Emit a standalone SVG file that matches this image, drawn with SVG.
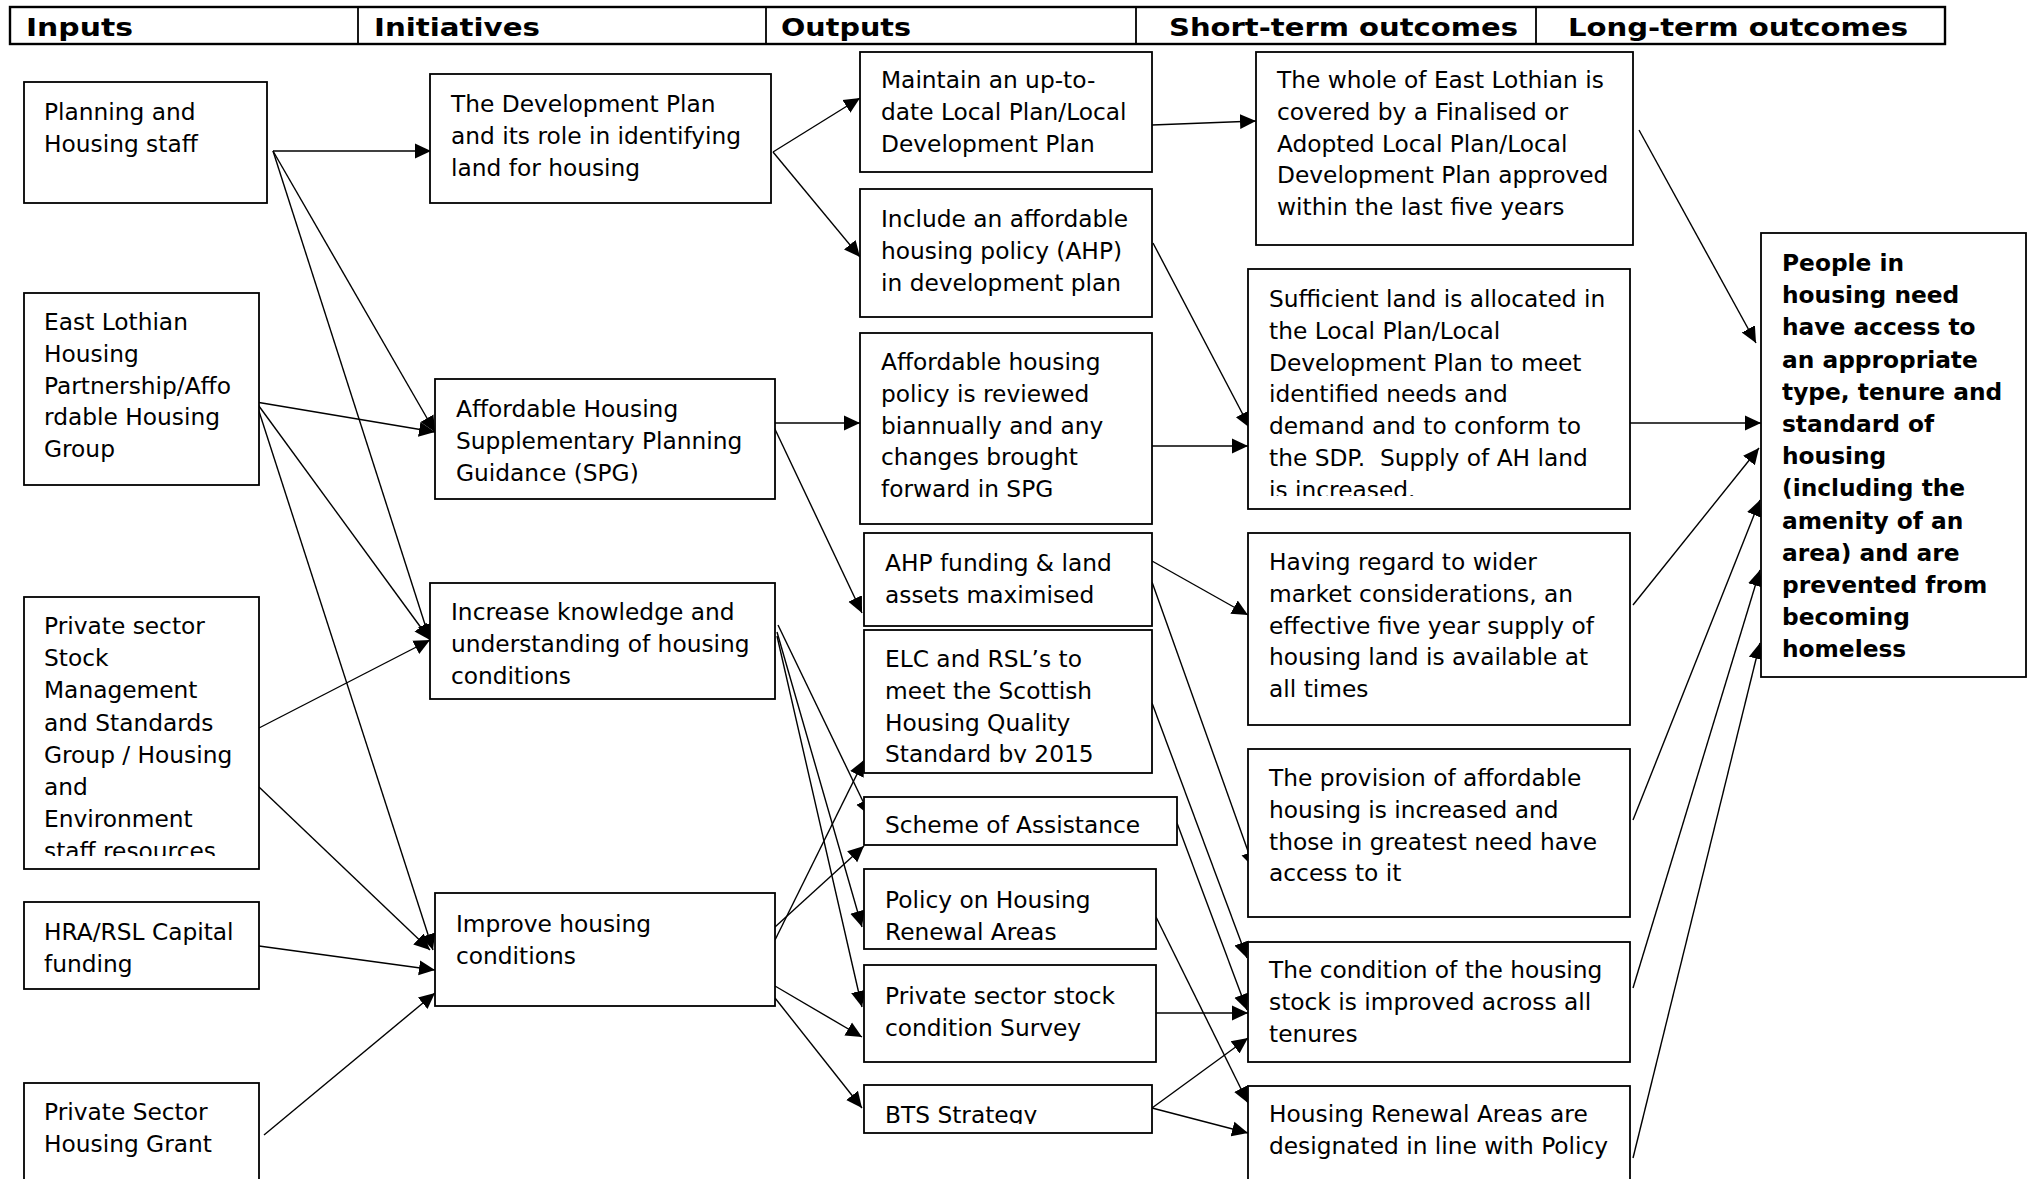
<svg xmlns="http://www.w3.org/2000/svg" width="2028" height="1179" viewBox="0 0 2028 1179">
<style>
.box{fill:#fff;stroke:#000;stroke-width:1.8}
.hdr{fill:#fff;stroke:#000;stroke-width:2.4}
.div{stroke:#000;stroke-width:1.8}
.t{font-family:"DejaVu Sans",Verdana,sans-serif;font-size:23.3px;fill:#000}
.h{font-family:"DejaVu Sans",Verdana,sans-serif;font-size:24px;font-weight:bold;fill:#000}
.b{font-weight:bold}
.c line{stroke:#000;stroke-width:1.4;marker-end:url(#ah)}
</style>
<defs>
<marker id="ah" markerUnits="userSpaceOnUse" markerWidth="17" markerHeight="17" viewBox="0 0 17 17" refX="16" refY="8.5" orient="auto"><path d="M0,1 L16,8.5 L0,16 z" fill="#000"/></marker>
<clipPath id="cl3"><rect x="24" y="597" width="235" height="259"/></clipPath>
<clipPath id="clo5"><rect x="864" y="630" width="288" height="133"/></clipPath>
<clipPath id="clo9"><rect x="864" y="1085" width="288" height="39"/></clipPath>
<clipPath id="cls2"><rect x="1248" y="269" width="382" height="227"/></clipPath>
</defs>
<rect width="2028" height="1179" fill="#fff"/>

<g id="header">
<rect class="hdr" x="10" y="7" width="1935" height="37"/>
<line class="div" x1="358" y1="7" x2="358" y2="44"/>
<line class="div" x1="766" y1="7" x2="766" y2="44"/>
<line class="div" x1="1136" y1="7" x2="1136" y2="44"/>
<line class="div" x1="1536" y1="7" x2="1536" y2="44"/>
<text class="h" x="26" y="36" textLength="107" lengthAdjust="spacingAndGlyphs">Inputs</text>
<text class="h" x="374" y="36" textLength="166" lengthAdjust="spacingAndGlyphs">Initiatives</text>
<text class="h" x="781" y="36" textLength="130" lengthAdjust="spacingAndGlyphs">Outputs</text>
<text class="h" x="1169" y="36" textLength="349" lengthAdjust="spacingAndGlyphs">Short-term outcomes</text>
<text class="h" x="1568" y="36" textLength="340" lengthAdjust="spacingAndGlyphs">Long-term outcomes</text>
</g>

<g id="connectors" class="c">
<line x1="273" y1="151" x2="431" y2="151"/>
<line x1="273" y1="151" x2="435" y2="432"/>
<line x1="273" y1="151" x2="430" y2="640"/>
<line x1="256" y1="402" x2="435" y2="432"/>
<line x1="256" y1="402" x2="430" y2="640"/>
<line x1="256" y1="402" x2="433" y2="950"/>
<line x1="259" y1="728" x2="430" y2="640"/>
<line x1="259" y1="787" x2="430" y2="950"/>
<line x1="259" y1="946" x2="435" y2="970"/>
<line x1="264" y1="1135" x2="435" y2="993"/>
<line x1="773" y1="152" x2="860" y2="98"/>
<line x1="773" y1="152" x2="860" y2="257"/>
<line x1="773" y1="423" x2="860" y2="423"/>
<line x1="773" y1="425" x2="862" y2="613"/>
<line x1="778" y1="625" x2="870" y2="816"/>
<line x1="777" y1="632" x2="862" y2="927"/>
<line x1="777" y1="636" x2="862" y2="1007"/>
<line x1="775" y1="940" x2="864" y2="760"/>
<line x1="775" y1="927" x2="864" y2="846"/>
<line x1="775" y1="986" x2="862" y2="1037"/>
<line x1="775" y1="998" x2="862" y2="1108"/>
<line x1="1152" y1="125" x2="1256" y2="121"/>
<line x1="1153" y1="243" x2="1250" y2="428"/>
<line x1="1152" y1="446" x2="1248" y2="446"/>
<line x1="1152" y1="561" x2="1248" y2="615"/>
<line x1="1152" y1="582" x2="1254" y2="868"/>
<line x1="1152" y1="703" x2="1247" y2="958"/>
<line x1="1177" y1="823" x2="1247" y2="1010"/>
<line x1="1152" y1="1013" x2="1248" y2="1013"/>
<line x1="1152" y1="1108" x2="1248" y2="1038"/>
<line x1="1152" y1="1108" x2="1248" y2="1133"/>
<line x1="1156" y1="917" x2="1248" y2="1103"/>
<line x1="1639" y1="130" x2="1756" y2="343"/>
<line x1="1630" y1="423" x2="1761" y2="423"/>
<line x1="1633" y1="605" x2="1759" y2="448"/>
<line x1="1633" y1="820" x2="1760" y2="500"/>
<line x1="1633" y1="988" x2="1760" y2="570"/>
<line x1="1633" y1="1158" x2="1760" y2="643"/>
</g>

<g id="in1"><rect class="box" x="24" y="82" width="243" height="121"/>
<text class="t" y="120"><tspan x="44">Planning and</tspan><tspan x="44" dy="31.8">Housing staff</tspan></text></g>
<g id="in2"><rect class="box" x="24" y="293" width="235" height="192"/>
<text class="t" y="330"><tspan x="44">East Lothian</tspan><tspan x="44" dy="31.8">Housing</tspan><tspan x="44" dy="31.8">Partnership/Affo</tspan><tspan x="44" dy="31.8">rdable Housing</tspan><tspan x="44" dy="31.8">Group</tspan></text></g>
<g id="in3"><rect class="box" x="24" y="597" width="235" height="272"/>
<text class="t" y="634" clip-path="url(#cl3)"><tspan x="44">Private sector</tspan><tspan x="44" dy="32.2">Stock</tspan><tspan x="44" dy="32.2">Management</tspan><tspan x="44" dy="32.2">and Standards</tspan><tspan x="44" dy="32.2">Group / Housing</tspan><tspan x="44" dy="32.2">and</tspan><tspan x="44" dy="32.2">Environment</tspan><tspan x="44" dy="32.2">staff resources</tspan></text></g>
<g id="in4"><rect class="box" x="24" y="902" width="235" height="87"/>
<text class="t" y="940"><tspan x="44">HRA/RSL Capital</tspan><tspan x="44" dy="31.8">funding</tspan></text></g>
<g id="in5"><rect class="box" x="24" y="1083" width="235" height="120"/>
<text class="t" y="1120"><tspan x="44">Private Sector</tspan><tspan x="44" dy="31.8">Housing Grant</tspan></text></g>

<g id="ini1"><rect class="box" x="430" y="74" width="341" height="129"/>
<text class="t" y="112"><tspan x="451">The Development Plan</tspan><tspan x="451" dy="31.8">and its role in identifying</tspan><tspan x="451" dy="31.8">land for housing</tspan></text></g>
<g id="ini2"><rect class="box" x="435" y="379" width="340" height="120"/>
<text class="t" y="417"><tspan x="456">Affordable Housing</tspan><tspan x="456" dy="31.8">Supplementary Planning</tspan><tspan x="456" dy="31.8">Guidance (SPG)</tspan></text></g>
<g id="ini3"><rect class="box" x="430" y="583" width="345" height="116"/>
<text class="t" y="620"><tspan x="451">Increase knowledge and</tspan><tspan x="451" dy="31.8">understanding of housing</tspan><tspan x="451" dy="31.8">conditions</tspan></text></g>
<g id="ini4"><rect class="box" x="435" y="893" width="340" height="113"/>
<text class="t" y="932"><tspan x="456">Improve housing</tspan><tspan x="456" dy="31.8">conditions</tspan></text></g>

<g id="out1"><rect class="box" x="860" y="52" width="292" height="120"/>
<text class="t" y="88"><tspan x="881">Maintain an up-to-</tspan><tspan x="881" dy="31.8">date Local Plan/Local</tspan><tspan x="881" dy="31.8">Development Plan</tspan></text></g>
<g id="out2"><rect class="box" x="860" y="189" width="292" height="128"/>
<text class="t" y="227"><tspan x="881">Include an affordable</tspan><tspan x="881" dy="31.8">housing policy (AHP)</tspan><tspan x="881" dy="31.8">in development plan</tspan></text></g>
<g id="out3"><rect class="box" x="860" y="333" width="292" height="191"/>
<text class="t" y="370"><tspan x="881">Affordable housing</tspan><tspan x="881" dy="31.8">policy is reviewed</tspan><tspan x="881" dy="31.8">biannually and any</tspan><tspan x="881" dy="31.8">changes brought</tspan><tspan x="881" dy="31.8">forward in SPG</tspan></text></g>
<g id="out4"><rect class="box" x="864" y="533" width="288" height="93"/>
<text class="t" y="571"><tspan x="885">AHP funding &amp; land</tspan><tspan x="885" dy="31.8">assets maximised</tspan></text></g>
<g id="out5"><rect class="box" x="864" y="630" width="288" height="143"/>
<text class="t" y="667" clip-path="url(#clo5)"><tspan x="885">ELC and RSL’s to</tspan><tspan x="885" dy="31.8">meet the Scottish</tspan><tspan x="885" dy="31.8">Housing Quality</tspan><tspan x="885" dy="31.8">Standard by 2015</tspan></text></g>
<g id="out6"><rect class="box" x="864" y="797" width="313" height="48"/>
<text class="t" x="885" y="833">Scheme of Assistance</text></g>
<g id="out7"><rect class="box" x="864" y="869" width="292" height="80"/>
<text class="t" y="908"><tspan x="885">Policy on Housing</tspan><tspan x="885" dy="31.8">Renewal Areas</tspan></text></g>
<g id="out8"><rect class="box" x="864" y="965" width="292" height="97"/>
<text class="t" y="1004"><tspan x="885">Private sector stock</tspan><tspan x="885" dy="31.8">condition Survey</tspan></text></g>
<g id="out9"><rect class="box" x="864" y="1085" width="288" height="48"/>
<text class="t" x="885" y="1123" clip-path="url(#clo9)">BTS Strategy</text></g>

<g id="st1"><rect class="box" x="1256" y="52" width="377" height="193"/>
<text class="t" y="88"><tspan x="1277">The whole of East Lothian is</tspan><tspan x="1277" dy="31.8">covered by a Finalised or</tspan><tspan x="1277" dy="31.8">Adopted Local Plan/Local</tspan><tspan x="1277" dy="31.8">Development Plan approved</tspan><tspan x="1277" dy="31.8">within the last five years</tspan></text></g>
<g id="st2"><rect class="box" x="1248" y="269" width="382" height="240"/>
<text class="t" y="307" clip-path="url(#cls2)" xml:space="preserve"><tspan x="1269">Sufficient land is allocated in</tspan><tspan x="1269" dy="31.8">the Local Plan/Local</tspan><tspan x="1269" dy="31.8">Development Plan to meet</tspan><tspan x="1269" dy="31.8">identified needs and</tspan><tspan x="1269" dy="31.8">demand and to conform to</tspan><tspan x="1269" dy="31.8">the SDP.  Supply of AH land</tspan><tspan x="1269" dy="31.8">is increased.</tspan></text></g>
<g id="st3"><rect class="box" x="1248" y="533" width="382" height="192"/>
<text class="t" y="570"><tspan x="1269">Having regard to wider</tspan><tspan x="1269" dy="31.8">market considerations, an</tspan><tspan x="1269" dy="31.8">effective five year supply of</tspan><tspan x="1269" dy="31.8">housing land is available at</tspan><tspan x="1269" dy="31.8">all times</tspan></text></g>
<g id="st4"><rect class="box" x="1248" y="749" width="382" height="168"/>
<text class="t" y="786"><tspan x="1269">The provision of affordable</tspan><tspan x="1269" dy="31.8">housing is increased and</tspan><tspan x="1269" dy="31.8">those in greatest need have</tspan><tspan x="1269" dy="31.8">access to it</tspan></text></g>
<g id="st5"><rect class="box" x="1248" y="942" width="382" height="120"/>
<text class="t" y="978"><tspan x="1269">The condition of the housing</tspan><tspan x="1269" dy="31.8">stock is improved across all</tspan><tspan x="1269" dy="31.8">tenures</tspan></text></g>
<g id="st6"><rect class="box" x="1248" y="1086" width="382" height="120"/>
<text class="t" y="1122"><tspan x="1269">Housing Renewal Areas are</tspan><tspan x="1269" dy="31.8">designated in line with Policy</tspan></text></g>

<g id="lt1"><rect class="box" x="1761" y="233" width="265" height="444"/>
<text class="t b" y="271"><tspan x="1782">People in</tspan><tspan x="1782" dy="32.2">housing need</tspan><tspan x="1782" dy="32.2">have access to</tspan><tspan x="1782" dy="32.2">an appropriate</tspan><tspan x="1782" dy="32.2">type, tenure and</tspan><tspan x="1782" dy="32.2">standard of</tspan><tspan x="1782" dy="32.2">housing</tspan><tspan x="1782" dy="32.2">(including the</tspan><tspan x="1782" dy="32.2">amenity of an</tspan><tspan x="1782" dy="32.2">area) and are</tspan><tspan x="1782" dy="32.2">prevented from</tspan><tspan x="1782" dy="32.2">becoming</tspan><tspan x="1782" dy="32.2">homeless</tspan></text></g>
</svg>
